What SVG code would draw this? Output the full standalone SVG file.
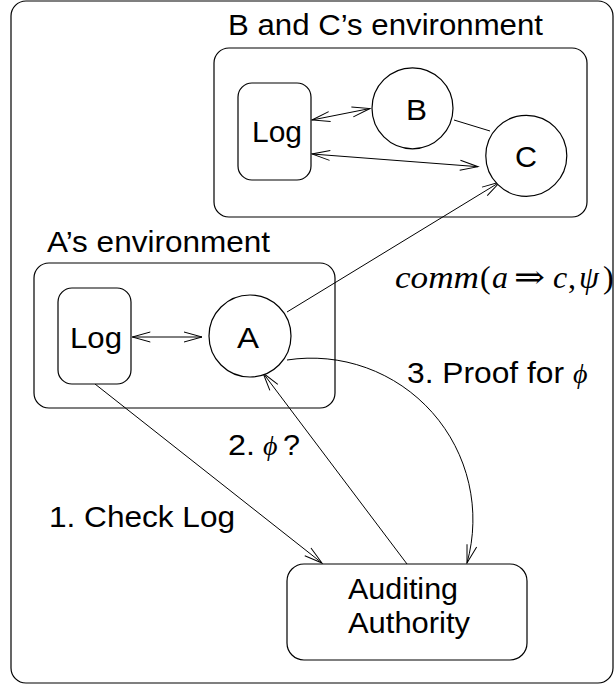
<svg xmlns="http://www.w3.org/2000/svg" width="615" height="684" viewBox="0 0 615 684">
<style>
.box{fill:none;stroke:#000;stroke-width:1.2}
.node{fill:#fff;stroke:#000;stroke-width:1.2}
.lbl{font-family:"Liberation Sans",Arial,sans-serif;font-size:29px;fill:#000}
.math{font-family:"Liberation Serif","DejaVu Serif",serif;font-size:32px;fill:#000}
.it{font-style:italic}
.gr{font-family:"Liberation Serif","DejaVu Serif",serif;font-style:italic;font-size:28px;fill:#000}
.con{fill:none;stroke:#000;stroke-width:1}
</style>
<defs>
<marker id="arr" markerUnits="userSpaceOnUse" markerWidth="40" markerHeight="20" viewBox="-20 -10 40 20" refX="0" refY="0" orient="auto-start-reverse">
<path d="M-18,-5 L0,0 L-18,5" fill="none" stroke="#000" stroke-width="1"/>
</marker>
</defs>
<rect id="frame" x="11" y="1" width="602" height="682" rx="15" class="box"/>
<g id="env-bc">
<rect x="214" y="48" width="373" height="169" rx="15" class="box"/>
<text class="lbl" x="228" y="35" textLength="315" lengthAdjust="spacingAndGlyphs">B and C’s environment</text>
</g>
<g id="env-a">
<rect x="34" y="263" width="301" height="145" rx="15" class="box"/>
<text class="lbl" x="47" y="252" textLength="223" lengthAdjust="spacingAndGlyphs">A’s environment</text>
</g>
<g id="connectors">
<line x1="312" y1="120" x2="370" y2="108.5" class="con" marker-start="url(#arr)" marker-end="url(#arr)"/>
<line x1="312" y1="154" x2="478" y2="166.7" class="con" marker-start="url(#arr)" marker-end="url(#arr)"/>
<line x1="454" y1="120" x2="490" y2="131" class="con"/>
<line x1="132.3" y1="337" x2="202" y2="337" class="con" marker-start="url(#arr)" marker-end="url(#arr)"/>
<line x1="287" y1="312" x2="500" y2="182" class="con" marker-end="url(#arr)"/>
<line x1="95" y1="384" x2="322" y2="563" class="con" marker-end="url(#arr)"/>
<line x1="407" y1="564" x2="263" y2="373" class="con" marker-end="url(#arr)"/>
<path d="M287,360 A161.5,161.5 0 0,1 467,563" class="con" marker-end="url(#arr)"/>
</g>
<g id="log-bc">
<rect x="238" y="83" width="73" height="97" rx="14" class="node"/>
<text class="lbl" x="252" y="142" textLength="50" lengthAdjust="spacingAndGlyphs">Log</text>
</g>
<g id="node-b">
<circle cx="412.5" cy="108.3" r="40.5" class="node"/>
<text class="lbl" x="406" y="120" textLength="21" lengthAdjust="spacingAndGlyphs">B</text>
</g>
<g id="node-c">
<circle cx="526.3" cy="155.8" r="40.5" class="node"/>
<text class="lbl" x="515" y="167" textLength="22" lengthAdjust="spacingAndGlyphs">C</text>
</g>
<g id="log-a">
<rect x="58" y="288" width="73" height="96" rx="14" class="node"/>
<text class="lbl" x="70" y="348" textLength="52" lengthAdjust="spacingAndGlyphs">Log</text>
</g>
<g id="node-a">
<circle cx="250" cy="336" r="41" class="node"/>
<text class="lbl" x="237" y="348" textLength="22" lengthAdjust="spacingAndGlyphs">A</text>
</g>
<g id="auditing-authority">
<rect x="287" y="564" width="240" height="96" rx="17" class="node"/>
<text class="lbl" x="348" y="599" textLength="110" lengthAdjust="spacingAndGlyphs">Auditing</text>
<text class="lbl" x="348" y="633" textLength="122" lengthAdjust="spacingAndGlyphs">Authority</text>
</g>
<g id="labels">
<text class="math it" x="395" y="288" textLength="84" lengthAdjust="spacingAndGlyphs">comm</text>
<text class="math" x="480" y="288">(</text>
<text class="math it" x="492" y="288">a</text>
<text class="math" x="514" y="288" textLength="31" lengthAdjust="spacingAndGlyphs">⇒</text>
<text class="math it" x="553" y="288">c</text>
<text class="math" x="568" y="288">,</text>
<text class="math it" x="579" y="288">ψ</text>
<text class="math" x="603" y="288">)</text>
<text class="lbl" x="407" y="383" textLength="157" lengthAdjust="spacingAndGlyphs">3. Proof for</text>
<text class="gr" x="573" y="383">ϕ</text>
<text class="lbl" x="228" y="455" textLength="27" lengthAdjust="spacingAndGlyphs">2.</text>
<text class="gr" x="263" y="455">ϕ</text>
<text class="lbl" x="283" y="455" textLength="17" lengthAdjust="spacingAndGlyphs">?</text>
<text class="lbl" x="49" y="527" textLength="186" lengthAdjust="spacingAndGlyphs">1. Check Log</text>
</g>
</svg>
